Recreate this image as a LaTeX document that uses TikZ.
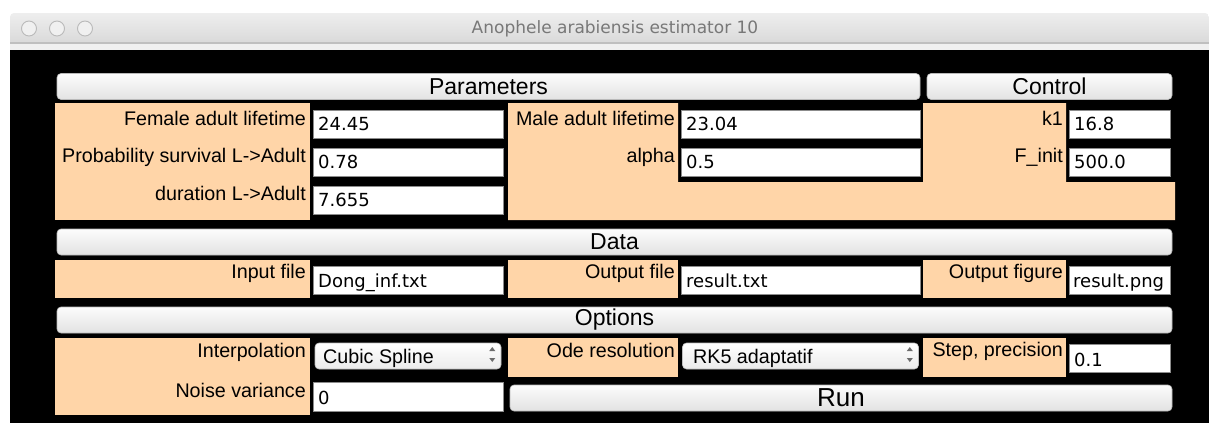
\documentclass[tikz,border=0pt]{standalone}
\usepackage{fontspec}
\setmainfont{Liberation Sans}
\newfontfamily\fieldfont{DejaVu Sans}
\definecolor{peach}{RGB}{255,213,168}
\definecolor{titletop}{RGB}{238,238,238}
\definecolor{titlebot}{RGB}{218,218,218}
\definecolor{titlegray}{RGB}{120,120,120}
\definecolor{btntop}{RGB}{252,252,252}
\definecolor{btnbot}{RGB}{226,226,226}
\definecolor{fieldline}{RGB}{140,140,140}
\tikzset{
  header/.style={rectangle, rounded corners=4pt, top color=btntop, bottom color=btnbot,
    draw=gray!55, line width=0.6pt, inner sep=0pt,
    font=\fontsize{23}{23}\selectfont},
  runbtn/.style={header, font=\fontsize{26}{26}\selectfont},
  field/.style={rectangle, fill=white, draw=fieldline, line width=0.8pt, inner sep=0pt},
  popup/.style={rectangle, rounded corners=4pt, top color=white, bottom color=btnbot!70,
    draw=gray!50, line width=0.6pt, inner sep=0pt},
  lbl/.style={anchor=base east, inner sep=0pt, font=\fontsize{19.7}{20}\selectfont},
  val/.style={anchor=base west, inner sep=0pt, font=\fieldfont\fontsize{18}{18}\selectfont},
  poptext/.style={anchor=base west, inner sep=0pt, font=\fontsize{19.7}{20}\selectfont},
  light/.style={circle, minimum size=15pt, inner sep=0pt, fill=gray!12, draw=gray!55, line width=0.9pt},
  arrowtri/.style={fill=gray!85!black},
  panel/.style={fill=peach}
}
\begin{document}
\begin{tikzpicture}[x=1pt,y=-1pt]
\useasboundingbox (0,0) rectangle (1209,423);
\fill[white] (0,0) rectangle (1209,423);
% window
\fill[black] (10,50) rectangle (1209,423);
\shade[top color=titletop, bottom color=titlebot] (10,42) [rounded corners=4pt] -- (10,13) -- (1209,13) [sharp corners] -- (1209,42) -- cycle;
\fill[gray!50] (10,42) rectangle (1209,43.5);
\fill[gray!12] (10,43.5) rectangle (1209,50);
\node[light] (l1) at (29,28.5) {};
\node[light] (l2) at (57,28.5) {};
\node[light] (l3) at (85,28.5) {};
\node[text=titlegray, font=\fieldfont\fontsize{17}{17}\selectfont, inner sep=0pt] (title) at (615,29) {Anophele arabiensis estimator 10};

% headers
\node[header, minimum width=863pt, minimum height=26pt] (hparam) at (488.5,86.5) {Parameters};
\node[header, minimum width=245pt, minimum height=26pt] (hctrl) at (1049.5,86.5) {Control};
\node[header, minimum width=1115pt, minimum height=26pt] (hdata) at (614.5,242) {Data};
\node[header, minimum width=1115pt, minimum height=26pt] (hopt) at (614.5,320) {Options};

% parameter panels
\fill[panel] (55,103) rectangle (310,220);
\fill[panel] (508,103) -- (678,103) -- (678,182) -- (923,182) -- (923,103) -- (1066,103)
   -- (1066,182) -- (1175,182) -- (1175,220) -- (508,220) -- cycle;

% left column fields
\node[field, minimum width=190pt, minimum height=28pt] (ffem) at (408,124) {};
\node[field, minimum width=190pt, minimum height=28pt] (fprob) at (408,162) {};
\node[field, minimum width=190pt, minimum height=28pt] (fdur) at (408,200) {};
\node[lbl] (lfem) at (306,125) {Female adult lifetime};
\node[lbl] (lprob) at (306,162.5) {Probability survival L->Adult};
\node[lbl] (ldur) at (306,200.5) {duration L->Adult};
\node[val] (vfem) at (318,130) {24.45};
\node[val] (vprob) at (318,168) {0.78};
\node[val] (vdur) at (318,206) {7.655};

% middle column fields
\node[field, minimum width=239pt, minimum height=28pt] (fmale) at (800.5,124) {};
\node[field, minimum width=239pt, minimum height=28pt] (falpha) at (800.5,162) {};
\node[lbl] (lmale) at (675,125) {Male adult lifetime};
\node[lbl] (lalpha) at (675,162.5) {alpha};
\node[val] (vmale) at (686,130) {23.04};
\node[val] (valpha) at (686,168) {0.5};

% control fields
\node[field, minimum width=101pt, minimum height=28pt] (fk) at (1119.5,124) {};
\node[field, minimum width=101pt, minimum height=28pt] (finit) at (1119.5,162) {};
\node[lbl] (lk) at (1063,125) {k1};
\node[lbl] (linit) at (1063,162.5) {F\_init};
\node[val] (vk) at (1074,130) {16.8};
\node[val] (vinit) at (1074,168) {500.0};

% data row
\fill[panel] (55,260) rectangle (310,298);
\fill[panel] (508,260) rectangle (678,298);
\fill[panel] (923,260) rectangle (1066,298);
\node[field, minimum width=190pt, minimum height=28pt] (fin) at (408,280) {};
\node[field, minimum width=239pt, minimum height=28pt] (fout) at (800.5,280) {};
\node[field, minimum width=101pt, minimum height=28pt] (ffig) at (1119.5,280) {};
\node[lbl] (lin) at (306,278) {Input file};
\node[lbl] (lout) at (675,278) {Output file};
\node[lbl] (lfig) at (1063,278) {Output figure};
\node[val] (vin) at (318,287) {Dong\_inf.txt};
\node[val] (vout) at (686,287) {result.txt};
\node[val] (vfig) at (1073,287) {result.png};

% options row
\fill[panel] (55,338) rectangle (310,415);
\fill[panel] (508,338) rectangle (678,377);
\fill[panel] (923,338) rectangle (1066,377);
\node[popup, minimum width=186pt, minimum height=26pt] (pinterp) at (408,356) {};
\node[popup, minimum width=236pt, minimum height=26pt] (pode) at (800.5,356) {};
\node[field, minimum width=101pt, minimum height=28pt] (fstep) at (1119.5,358) {};
\node[field, minimum width=190pt, minimum height=29pt] (fnoise) at (408,396.5) {};
\node[lbl] (linterp) at (306,357) {Interpolation};
\node[lbl] (lode) at (675,357) {Ode resolution};
\node[lbl] (lstep) at (1063,356) {Step, precision};
\node[lbl] (lnoise) at (306,397) {Noise variance};
\node[poptext] (tinterp) at (323,363) {Cubic Spline};
\node[poptext] (tode) at (693,363) {RK5 adaptatif};
\node[val] (vstep) at (1074,366) {0.1};
\node[val] (vnoise) at (318,404) {0};
% popup arrows
\fill[arrowtri] ([xshift=-12pt,yshift=5pt]pinterp.east) -- ++(3,-4) -- ++(3,4) -- cycle;
\fill[arrowtri] ([xshift=-12pt,yshift=-2pt]pinterp.east) -- ++(3,4) -- ++(3,-4) -- cycle;
\fill[arrowtri] ([xshift=-12pt,yshift=5pt]pode.east) -- ++(3,-4) -- ++(3,4) -- cycle;
\fill[arrowtri] ([xshift=-12pt,yshift=-2pt]pode.east) -- ++(3,4) -- ++(3,-4) -- cycle;

% run button
\node[runbtn, minimum width=662pt, minimum height=26pt] (run) at (841,398) {Run};
\end{tikzpicture}
\end{document}
